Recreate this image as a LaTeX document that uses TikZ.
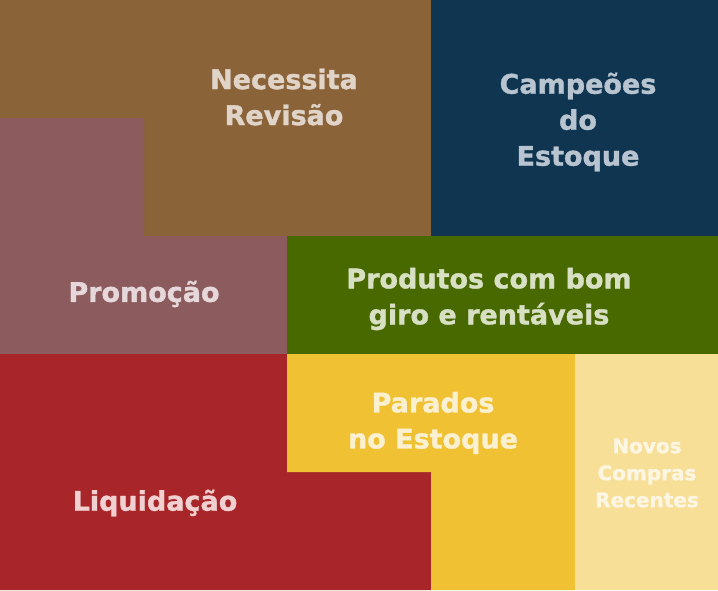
\documentclass[tikz,border=0pt]{standalone}
\usepackage{fontspec}
\setmainfont{DejaVu Sans}[BoldFeatures={FakeBold=1.3}]
\usetikzlibrary{positioning}
\definecolor{revisao}{HTML}{8B6339}
\definecolor{campeoes}{HTML}{103551}
\definecolor{promocao}{HTML}{8B5B5D}
\definecolor{giro}{HTML}{486800}
\definecolor{liquida}{HTML}{A8262A}
\definecolor{parados}{HTML}{F0C233}
\definecolor{novos}{HTML}{F8DF98}
\tikzset{
  zone/.style={draw=none},
  zonetext/.style={font=\bfseries\fontsize{27}{36}\selectfont,align=center,inner sep=0pt},
  smalltext/.style={zonetext,font=\bfseries\fontsize{20}{27}\selectfont}
}

\begin{document}
\begin{tikzpicture}[x=1pt,y=-1pt]
  \useasboundingbox (0,0) rectangle (718,590);

  % regions of the matrix
  \fill[zone,revisao] (0,0) -- (431,0) -- (431,236) -- (144,236) -- (144,118) -- (0,118) -- cycle;
  \fill[zone,campeoes] (431,0) rectangle (718,236);
  \fill[zone,promocao] (0,118) -- (144,118) -- (144,236) -- (287,236) -- (287,354) -- (0,354) -- cycle;
  \fill[zone,giro] (287,236) rectangle (718,354);
  \fill[zone,liquida] (0,354) -- (287,354) -- (287,472) -- (431,472) -- (431,590) -- (0,590) -- cycle;
  \fill[zone,parados] (287,354) -- (575,354) -- (575,590) -- (431,590) -- (431,472) -- (287,472) -- cycle;
  \fill[zone,novos] (575,354) rectangle (718,590);

  % labels
  \node[zonetext,text={rgb,255:red,224;green,212;blue,201}] (revisaolbl) at (284,97) {Necessita\\Revisão};
  \node[zonetext,text={rgb,255:red,184;green,196;blue,208}] (campeoeslbl) at (578,122) {Campeões\\do\\Estoque};
  \node[zonetext,text={rgb,255:red,230;green,216;blue,218}] (promocaolbl) at (144,294) {Promoção};
  \node[zonetext,text={rgb,255:red,216;green,224;blue,196}] (girolbl) at (489,299) {Produtos com bom\\giro e rentáveis};
  \node[zonetext,text={rgb,255:red,251;green,240;blue,208}] (paradoslbl) at (433,423) {Parados\\no Estoque};
  \node[smalltext,text={rgb,255:red,253;green,246;blue,226}] (novoslbl) at (647,473) {Novos\\Compras\\Recentes};
  \node[zonetext,text={rgb,255:red,240;green,208;blue,208}] (liquidalbl) at (155,503) {Liquidação};
\end{tikzpicture}
\end{document}
